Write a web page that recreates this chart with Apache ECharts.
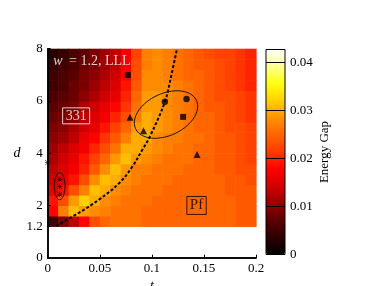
<!DOCTYPE html>
<html><head><meta charset="utf-8">
<script src="https://cdn.jsdelivr.net/npm/echarts@6/dist/echarts.min.js"></script>
<style>html,body{margin:0;padding:0;background:#fff}#c{width:382px;height:286px}</style>
</head><body><div id="c"></div>
<script>
// ---- data ----
const tCenters = [0.005,0.015,0.025,0.035,0.045,0.055,0.065,0.075,0.085,0.095,0.105,0.115,0.125,0.135,0.145,0.155,0.165,0.175,0.185,0.195];
const dCenters = [1.4,1.8,2.2,2.6,3.0,3.4,3.8,4.2,4.6,5.0,5.4,5.8,6.2,6.6,7.0,7.4,7.8];
const gapRows = [
 [0.005,0.009,0.013,0.018,0.023,0.025,0.026,0.026,0.026,0.025,0.025,0.025,0.025,0.025,0.025,0.025,0.025,0.025,0.024,0.024],
 [0.018,0.027,0.031,0.029,0.028,0.027,0.026,0.026,0.026,0.025,0.025,0.025,0.025,0.025,0.025,0.025,0.025,0.025,0.024,0.024],
 [0.019,0.023,0.029,0.032,0.030,0.028,0.027,0.026,0.026,0.026,0.025,0.025,0.025,0.025,0.025,0.025,0.025,0.025,0.024,0.024],
 [0.016,0.019,0.023,0.027,0.031,0.030,0.028,0.027,0.026,0.026,0.026,0.025,0.025,0.025,0.025,0.025,0.025,0.024,0.024,0.024],
 [0.014,0.016,0.019,0.023,0.028,0.031,0.030,0.028,0.027,0.026,0.026,0.026,0.025,0.025,0.025,0.025,0.025,0.024,0.024,0.023],
 [0.013,0.015,0.017,0.020,0.024,0.028,0.031,0.029,0.027,0.027,0.026,0.026,0.026,0.025,0.025,0.025,0.024,0.024,0.023,0.023],
 [0.012,0.014,0.016,0.019,0.022,0.025,0.029,0.031,0.029,0.028,0.027,0.026,0.026,0.026,0.025,0.025,0.024,0.024,0.023,0.022],
 [0.011,0.013,0.015,0.017,0.020,0.023,0.026,0.030,0.030,0.029,0.028,0.027,0.026,0.026,0.025,0.025,0.024,0.024,0.023,0.022],
 [0.010,0.011,0.013,0.016,0.018,0.021,0.024,0.027,0.030,0.030,0.028,0.027,0.027,0.026,0.026,0.025,0.024,0.024,0.023,0.022],
 [0.009,0.010,0.012,0.014,0.016,0.019,0.022,0.025,0.029,0.030,0.029,0.028,0.027,0.026,0.025,0.025,0.024,0.023,0.023,0.022],
 [0.008,0.009,0.010,0.013,0.015,0.017,0.020,0.023,0.027,0.030,0.029,0.028,0.027,0.026,0.025,0.025,0.024,0.023,0.022,0.021],
 [0.007,0.008,0.009,0.012,0.014,0.016,0.018,0.021,0.026,0.029,0.029,0.028,0.027,0.026,0.025,0.024,0.024,0.023,0.022,0.021],
 [0.006,0.007,0.008,0.010,0.012,0.014,0.016,0.020,0.025,0.029,0.029,0.028,0.027,0.026,0.025,0.024,0.023,0.023,0.022,0.021],
 [0.005,0.006,0.008,0.009,0.011,0.013,0.015,0.019,0.024,0.028,0.028,0.028,0.027,0.026,0.025,0.024,0.023,0.022,0.021,0.020],
 [0.005,0.006,0.007,0.009,0.010,0.012,0.014,0.018,0.023,0.028,0.028,0.027,0.026,0.025,0.025,0.024,0.023,0.022,0.021,0.020],
 [0.004,0.005,0.006,0.008,0.009,0.011,0.013,0.017,0.023,0.027,0.028,0.027,0.026,0.025,0.024,0.024,0.023,0.022,0.021,0.020],
 [0.003,0.004,0.006,0.007,0.009,0.011,0.013,0.017,0.022,0.027,0.028,0.027,0.026,0.025,0.024,0.023,0.022,0.022,0.021,0.020]
];
const yTickValues = [0, 1.2, 2, 4, 6, 8];
const cbTickValues = [0, 0.01, 0.02, 0.03, 0.04];
const curveT = [0.008, 0.030, 0.0495, 0.069, 0.0815, 0.091, 0.098, 0.1125, 0.119, 0.124];
const curveD = [1.22, 1.72, 2.23, 2.87, 3.5, 4.14, 4.63, 5.97, 7.04, 7.97];
const squarePts = [[0.077, 6.99], [0.130, 5.39]];
const trianglePts = [[0.079, 5.38], [0.092, 4.86], [0.1434, 3.95]];
const circlePts = [[0.1125, 5.97], [0.1333, 6.07]];
const starPts = [[0.0115, 3.0], [0.0115, 2.72], [0.0115, 2.43], [0, 3.64]];
// ellipse: centre t, centre d, semi-axis (t units), semi-axis (d units), tilt in degrees
const ellipses = [[0.1136, 5.48, 0.0322, 0.805, 25], [0.0115, 2.74, 0.0051, 0.52, 0]];
const boxLabels = ['331', 'Pf'];
const boxPts = [[0.0273, 5.43], [0.1429, 2.0]];
const titlePt = [0.0054, 7.5];
const gapMax = 0.0427;

// ---- build ----
const tStep = tCenters[1] - tCenters[0];
const dStep = dCenters[1] - dCenters[0];
const cells = [];
dCenters.forEach((d, i) => tCenters.forEach((t, j) => cells.push([t, d, gapRows[i][j]])));
const curve = curveT.map((t, i) => [t, curveD[i]]);

const FONT = 'Liberation Serif';
const cmap = ['#000000','#2e0000','#5c0000','#980000','#d40000','#ff0000','#ff3a00','#ff6400','#ff9200','#ffd000','#ffff10','#ffff90','#ffffff'];
const starPath = 'path://M4.4 0H5.6V10H4.4Z M0 4.4H10V5.6H0Z M0.85 0L10 9.15L9.15 10L0 0.85Z M9.15 0L10 0.85L0.85 10L0 9.15Z';

const chart = echarts.init(document.getElementById('c'), null, {renderer: 'canvas'});
const axisFont = {fontFamily: FONT, fontSize: 13, color: '#000'};
const option = {
  animation: false,
  backgroundColor: '#fff',
  grid: [
    {left: 47.7, top: 48.7, width: 208.3, height: 209, show: false, containLabel: false, outerBoundsMode: 'none'},
    {left: 266, top: 49.5, width: 19, height: 205, show: true, borderColor: '#000', borderWidth: 1, backgroundColor: 'transparent', z: 10, containLabel: false, outerBoundsMode: 'none'}
  ],
  visualMap: {
    type: 'continuous', min: 0, max: gapMax, dimension: 2, seriesIndex: 0,
    inRange: {color: cmap}, left: 266, top: 49.5, itemWidth: 19, itemHeight: 205,
    padding: 0, calculable: false, hoverLink: false, z: 1
  },
  xAxis: [
    {gridIndex: 0, type: 'value', min: 0, max: 0.2, interval: 0.05, z: 10,
     axisLine: {lineStyle: {color: '#000', width: 1.5}},
     axisTick: {inside: true, length: 3, lineStyle: {color: '#000'}},
     axisLabel: Object.assign({margin: 4}, axisFont),
     splitLine: {show: false},
     name: 't', nameLocation: 'middle', nameGap: 20,
     nameTextStyle: {fontFamily: FONT, fontStyle: 'italic', fontSize: 14, color: '#000', verticalAlign: 'top'}},
    {gridIndex: 0, type: 'value', min: 0, max: 0.2, position: 'top', z: 10,
     axisLine: {lineStyle: {color: '#000', width: 1.5}}, axisTick: {show: false},
     axisLabel: {show: false}, splitLine: {show: false}},
    {gridIndex: 1, type: 'value', min: 0, max: 1, show: false}
  ],
  yAxis: [
    {gridIndex: 0, type: 'value', min: 0, max: 8, interval: 2, z: 10,
     axisLine: {lineStyle: {color: '#000', width: 1.5}},
     axisTick: {inside: true, length: 3, customValues: yTickValues, lineStyle: {color: '#000'}},
     axisLabel: Object.assign({margin: 5, customValues: yTickValues}, axisFont),
     splitLine: {show: false},
     name: 'd', nameLocation: 'middle', nameRotate: 0, nameGap: 20,
     nameTextStyle: {fontFamily: FONT, fontStyle: 'italic', fontSize: 14, color: '#000', align: 'right', verticalAlign: 'middle'}},
    {gridIndex: 0, type: 'value', min: 0, max: 8, position: 'right', z: 10,
     axisLine: {lineStyle: {color: '#000', width: 1.5}}, axisTick: {show: false},
     axisLabel: {show: false}, splitLine: {show: false}},
    {gridIndex: 1, type: 'value', min: 0, max: gapMax, interval: 0.01, position: 'right', z: 10,
     axisLine: {show: false}, axisTick: {show: false},
     axisLabel: Object.assign({margin: 5, customValues: cbTickValues}, axisFont),
     splitLine: {show: true, lineStyle: {color: '#000', width: 1}},
     name: 'Energy Gap', nameLocation: 'middle', nameRotate: 90, nameGap: 33,
     nameTextStyle: {fontFamily: FONT, fontSize: 13, color: '#000'}}
  ],
  series: [
    {type: 'custom', name: 'gap', xAxisIndex: 0, yAxisIndex: 0, data: cells, encode: {x: 0, y: 1}, silent: true, z: 1,
     renderItem(params, api) {
       const p = api.coord([api.value(0) - tStep / 2, api.value(1) + dStep / 2]);
       const s = api.size([tStep, dStep]);
       return {type: 'rect', shape: {x: p[0], y: p[1], width: s[0] + 0.6, height: s[1] + 0.6},
               style: {fill: api.visual('color')}};
     }},
    {type: 'line', name: 'boundary', xAxisIndex: 0, yAxisIndex: 0, data: curve, smooth: 0.4, symbol: 'none', z: 3,
     lineStyle: {color: '#000', width: 2, type: [3, 2]}},
    {type: 'custom', name: 'ellipses', xAxisIndex: 0, yAxisIndex: 0, data: ellipses, encode: {x: 0, y: 1}, silent: true, z: 4,
     renderItem(params, api) {
       const c = api.coord([api.value(0), api.value(1)]);
       const s = api.size([api.value(2), api.value(3)]);
       const ang = api.value(4) * Math.PI / 180;
       const pts = [];
       for (let k = 0; k < 96; k++) {
         const th = 2 * Math.PI * k / 96;
         const ex = s[0] * Math.cos(th), ey = s[1] * Math.sin(th);
         pts.push([c[0] + ex * Math.cos(ang) - ey * Math.sin(ang), c[1] - (ex * Math.sin(ang) + ey * Math.cos(ang))]);
       }
       return {type: 'polygon', shape: {points: pts}, style: {fill: 'none', stroke: '#111', lineWidth: 1}};
     }},
    {type: 'scatter', name: 'squares', data: squarePts, symbol: 'rect', symbolSize: 6, itemStyle: {color: '#000'}, z: 5},
    {type: 'scatter', name: 'triangles', data: trianglePts, symbol: 'triangle', symbolSize: 7, itemStyle: {color: '#000'}, z: 5},
    {type: 'scatter', name: 'circles', data: circlePts, symbol: 'circle', symbolSize: 6.5, itemStyle: {color: '#000'}, z: 5},
    {type: 'scatter', name: 'stars', data: starPts, symbol: starPath, symbolSize: 5.5, clip: false, itemStyle: {color: '#1a0000'}, z: 11},
    {type: 'scatter', name: 'labels', symbolSize: 0, z: 6, silent: true,
     data: [
       {value: boxPts[0], label: {show: true, position: 'inside', formatter: boxLabels[0], color: '#fff', fontFamily: FONT, fontSize: 14,
         borderColor: '#fff', borderWidth: 1, padding: [1, 3, 0, 3], lineHeight: 15}},
       {value: boxPts[1], label: {show: true, position: 'inside', formatter: boxLabels[1], color: '#000', fontFamily: FONT, fontSize: 15,
         borderColor: '#000', borderWidth: 1, padding: [2, 3, 0, 3], lineHeight: 16}},
       {value: titlePt, label: {show: true, position: 'right', distance: 0, formatter: '{w|w} {n|= 1.2, LLL}',
         rich: {w: {fontFamily: FONT, fontStyle: 'italic', fontSize: 14, color: '#fff'},
                n: {fontFamily: FONT, fontSize: 14, color: '#fff', padding: [0, 0, 0, 3]}}}}
     ]}
  ]
};
chart.setOption(option);
</script></body></html>
